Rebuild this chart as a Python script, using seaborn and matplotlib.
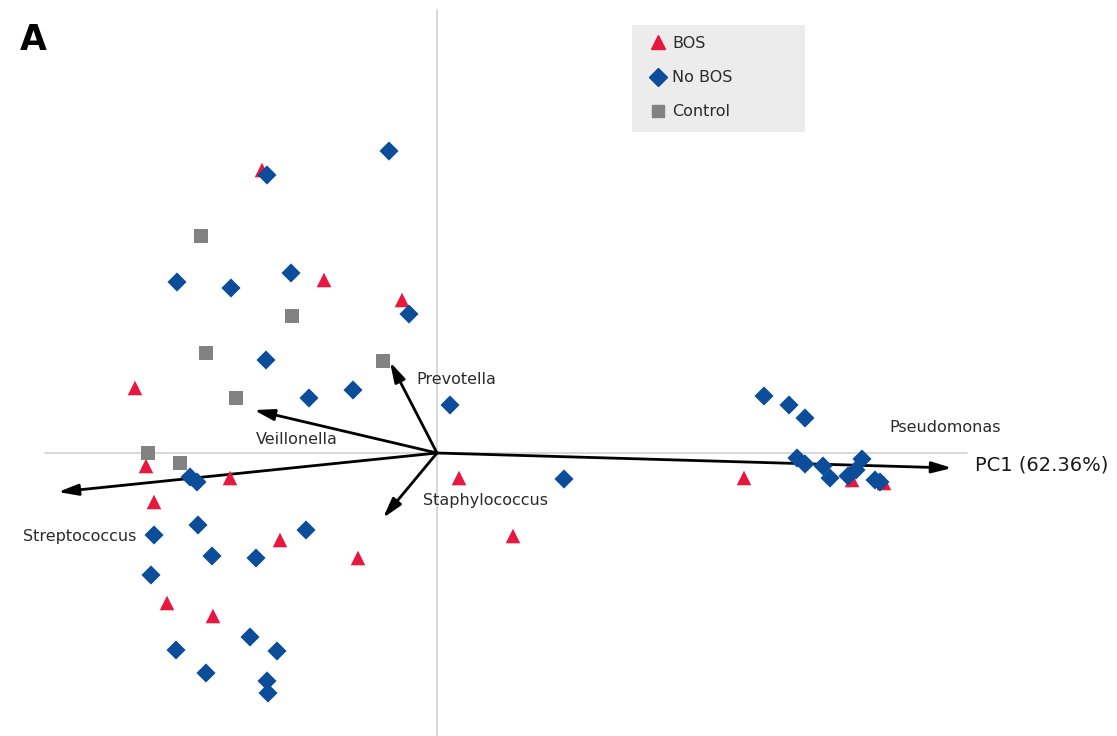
import matplotlib
matplotlib.use("Agg")
import matplotlib.pyplot as plt
import matplotlib.patches as mpatches
import numpy as np
import pandas as pd
import seaborn as sns

# PCA sample scores per group
bos_pc1 = [-1.75, -1.13, -0.35, -3.02, -2.91, -2.07, -2.83, -1.57, -0.79, -2.70,
           -2.24, 0.22, 0.76, 3.07, 4.15, 4.47]
bos_pc2 = [2.83, 1.73, 1.53, 0.65, -0.13, -0.25, -0.49, -0.87, -1.05, -1.50,
           -1.63, -0.25, -0.83, -0.25, -0.27, -0.30]

nobos_pc1 = [-0.48, -1.70, -2.60, -2.06, -1.46, -0.28, -1.71, -1.28, -0.84, 0.13,
             -2.47, -2.40, -2.39, -1.31, -2.83, -2.25, -1.81, -2.86, -1.87, -2.61,
             -1.60, -2.31, -1.70, -1.69, 1.27, 3.27, 3.52, 3.68, 3.60, 3.68,
             3.86, 3.93, 4.25, 4.19, 4.11, 4.38, 4.43]
nobos_pc2 = [3.02, 2.78, 1.71, 1.65, 1.80, 1.39, 0.93, 0.55, 0.63, 0.48,
             -0.24, -0.29, -0.72, -0.77, -0.82, -1.03, -1.05, -1.22, -1.84, -1.97,
             -1.98, -2.20, -2.28, -2.40, -0.26, 0.57, 0.48, 0.35, -0.05, -0.11,
             -0.13, -0.25, -0.06, -0.17, -0.23, -0.27, -0.29]

control_pc1 = [-2.36, -1.45, -2.31, -0.54, -2.01, -2.89, -2.57]
control_pc2 = [2.17, 1.37, 1.00, 0.92, 0.55, 0.00, -0.10]

groups = ["BOS", "No BOS", "Control"]

# Taxon loading vectors (biplot arrows)
taxa = ["Pseudomonas", "Streptococcus", "Veillonella", "Prevotella", "Staphylococcus"]
load_pc1 = [5.15, -3.79, -1.83, -0.47, -0.54]
load_pc2 = [-0.15, -0.39, 0.43, 0.91, -0.65]

df = pd.DataFrame({
    "PC1": bos_pc1 + nobos_pc1 + control_pc1,
    "PC2": bos_pc2 + nobos_pc2 + control_pc2,
    "Group": ["BOS"] * len(bos_pc1) + ["No BOS"] * len(nobos_pc1) + ["Control"] * len(control_pc1),
})

palette = {"BOS": "#e8173f", "No BOS": "#0b4d98", "Control": "#828282"}
markers = {"BOS": "^", "No BOS": "D", "Control": "s"}
sizes_pt = {"BOS": 110, "No BOS": 95, "Control": 100}

sns.set_theme(style="white")
plt.rcParams["font.family"] = ["DejaVu Sans"]

fig = plt.figure(figsize=(11.17, 7.36), dpi=100)
ax = fig.add_axes([0, 0, 1, 1])
ax.set_xlim(-4.37, 6.80)
ax.set_ylim(-2.83, 4.53)
ax.set_axis_off()

# reference axes through the origin
ax.plot([-3.92, 5.30], [0, 0], color="#d2d2d2", lw=1.2, zorder=1)
ax.plot([0, 0], [-2.83, 4.43], color="#d2d2d2", lw=1.2, zorder=1)

# loading arrows
for name, lx, ly in zip(taxa, load_pc1, load_pc2):
    ax.annotate("", xy=(lx, ly), xytext=(0, 0),
                arrowprops=dict(arrowstyle="-|>,head_length=1.0,head_width=0.28",
                                color="black", lw=2.0, shrinkA=0, shrinkB=0),
                zorder=2)

# sample scores, one group at a time so each keeps its own marker size
for g in groups:
    sub = df[df["Group"] == g]
    sns.scatterplot(data=sub, x="PC1", y="PC2", color=palette[g], marker=markers[g],
                    s=sizes_pt[g], edgecolor="none", linewidth=0, ax=ax, zorder=3,
                    legend=False)

label_kw = dict(fontsize=11.5, color="#2b2b2b", zorder=4)
ax.text(5.08, 0.25, "Pseudomonas", ha="center", va="center", **label_kw)
ax.text(-3.57, -0.84, "Streptococcus", ha="center", va="center", **label_kw)
ax.text(-1.40, 0.13, "Veillonella", ha="center", va="center", **label_kw)
ax.text(0.19, 0.73, "Prevotella", ha="center", va="center", **label_kw)
ax.text(0.49, -0.47, "Staphylococcus", ha="center", va="center", **label_kw)
ax.text(5.38, -0.12, "PC1 (62.36%)", ha="left", va="center", fontsize=14,
        color="#1a1a1a", zorder=4)

# panel letter
fig.text(33 / 1117, 1 - 40 / 736, "A", fontsize=25, fontweight="bold",
         ha="center", va="center", color="black")

# legend panel
fig.patches.append(mpatches.Rectangle((632 / 1117, 1 - 132 / 736), 173 / 1117, 107 / 736,
                                      transform=fig.transFigure, facecolor="#ececec",
                                      edgecolor="none", zorder=0))
handles = [plt.Line2D([], [], linestyle="none", marker=markers[g], color=palette[g],
                      markersize={"BOS": 10, "No BOS": 9, "Control": 9}[g])
           for g in groups]
fig.legend(handles, groups, loc="upper left",
           bbox_to_anchor=(640 / 1117, 1 - 28 / 736), frameon=False, fontsize=11.5,
           labelspacing=1.2, handletextpad=0.3, handlelength=1.2, borderpad=0,
           labelcolor="#2b2b2b")

fig.savefig("out.png", dpi=100)
